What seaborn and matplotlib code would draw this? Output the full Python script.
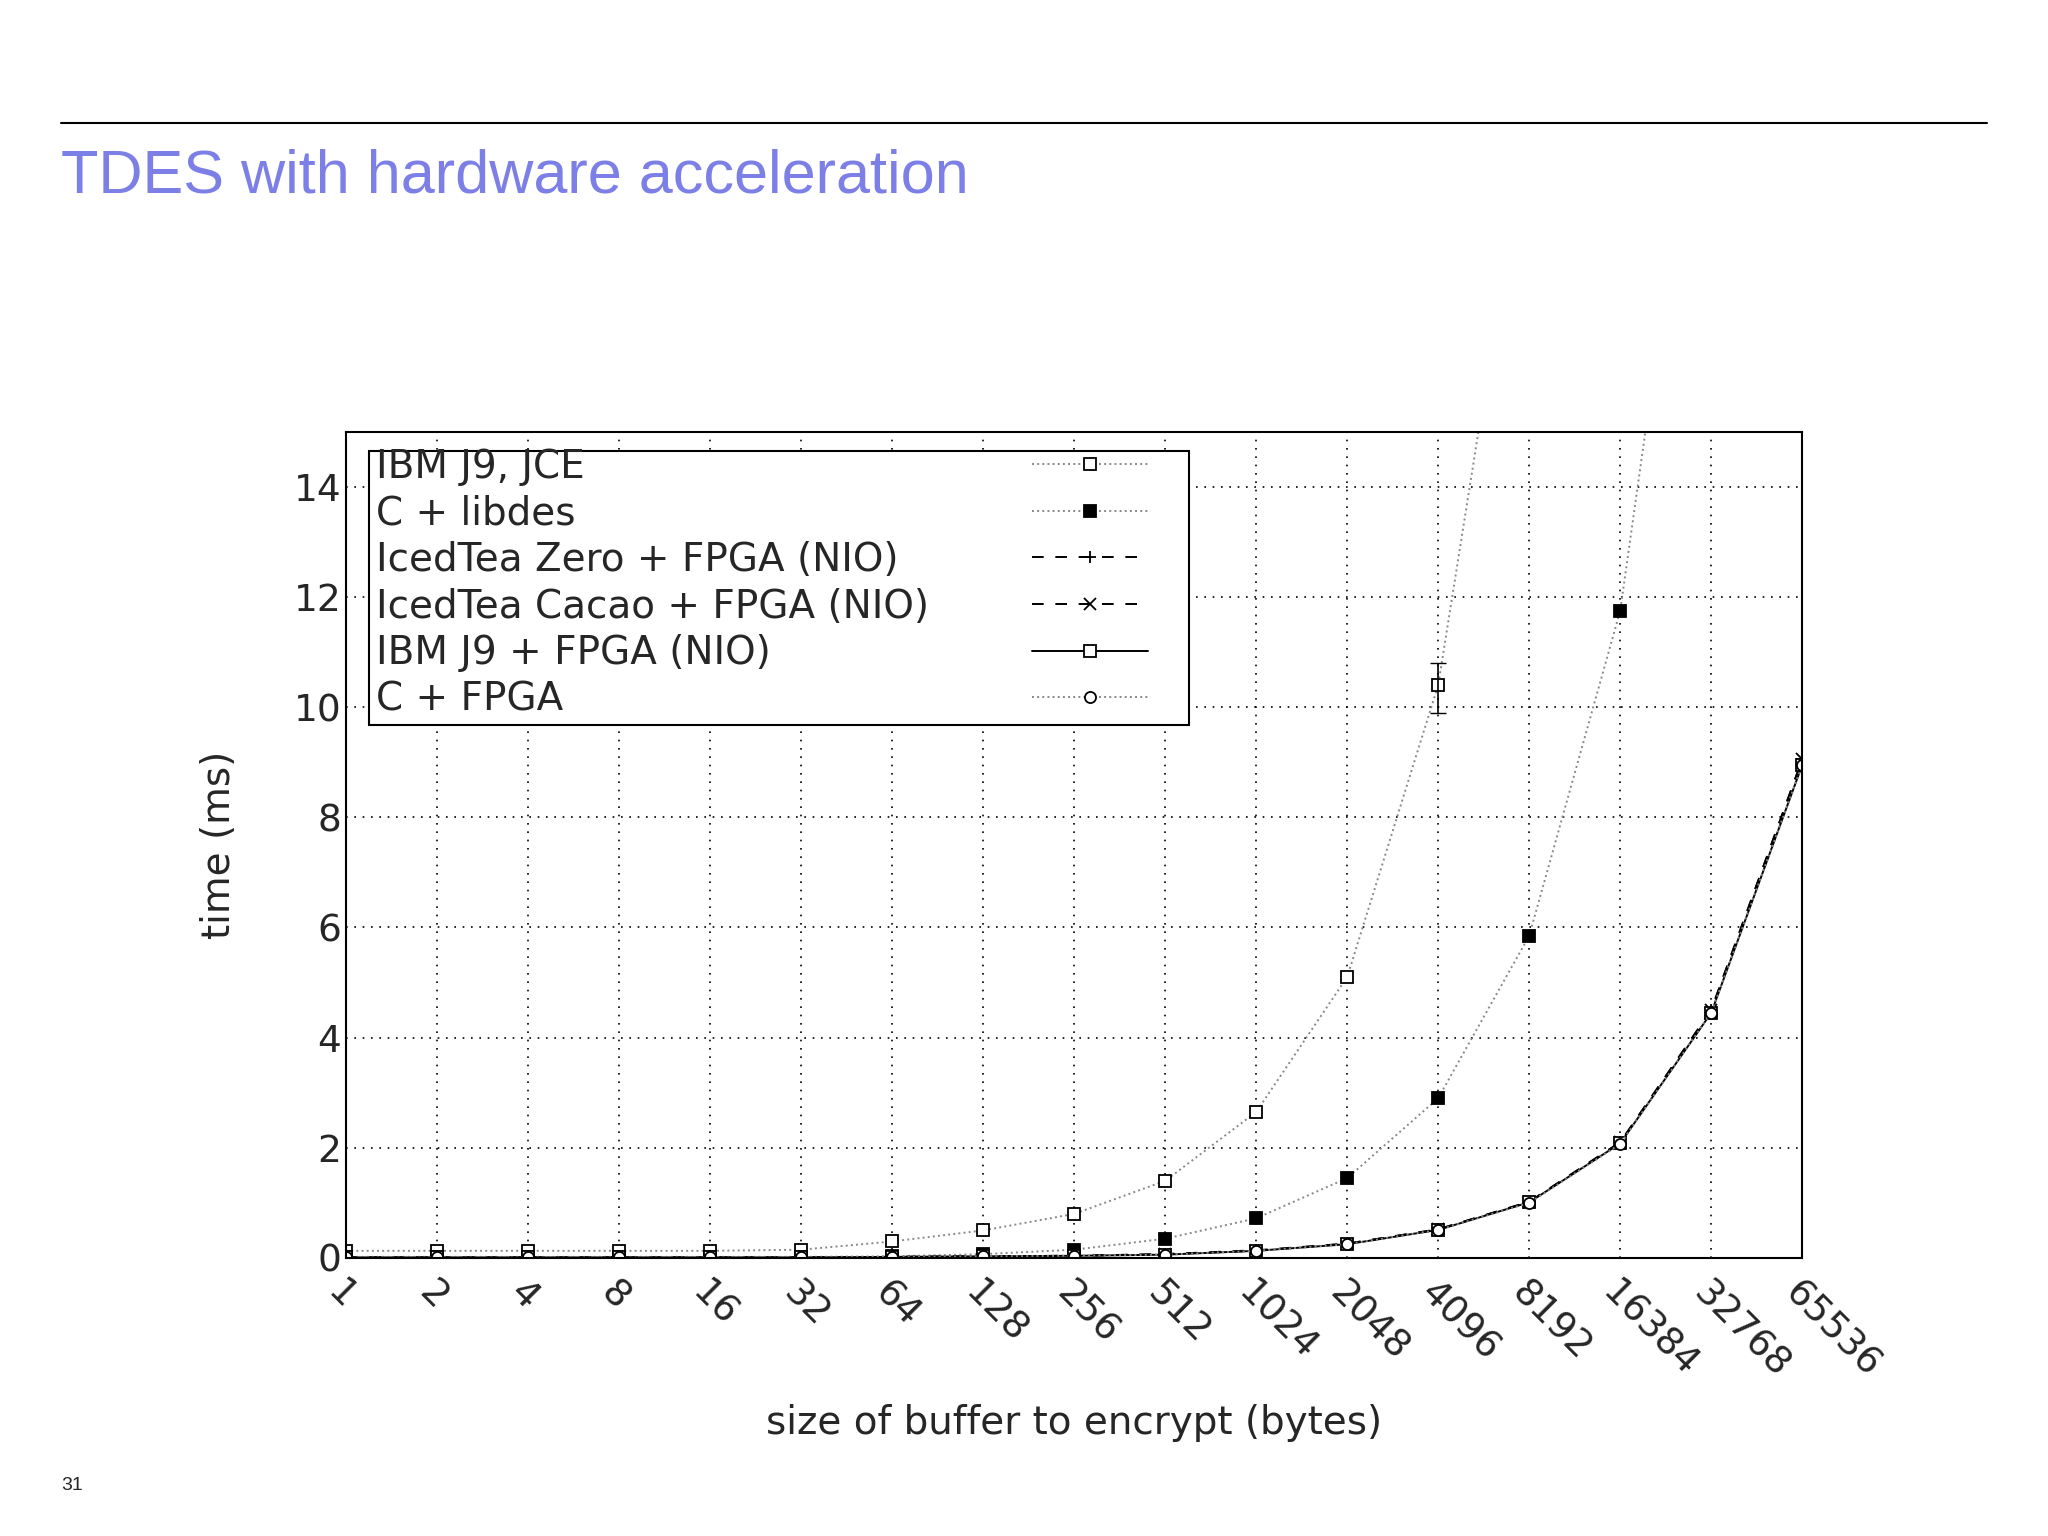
import numpy as np
import pandas as pd
import matplotlib
matplotlib.use('Agg')
import matplotlib.pyplot as plt
from matplotlib.patches import Rectangle
import seaborn as sns

# ── data ──────────────────────────────────────────────────────────────
sizes = ['1', '2', '4', '8', '16', '32', '64', '128', '256', '512',
         '1024', '2048', '4096', '8192', '16384', '32768', '65536']
ibm_jce = [0.13, 0.13, 0.13, 0.13, 0.13, 0.15, 0.3, 0.5, 0.8, 1.4,
           2.65, 5.1, 10.4, 20.8, 41.5, 83.0, 166.0]
c_libdes = [0.02, 0.02, 0.02, 0.02, 0.02, 0.02, 0.03, 0.07, 0.15, 0.35,
            0.72, 1.45, 2.9, 5.85, 11.75, 23.5, 47.0]
zero_fpga = [0.01, 0.01, 0.01, 0.01, 0.01, 0.01, 0.02, 0.03, 0.04, 0.07,
             0.14, 0.26, 0.52, 1.02, 2.1, 4.5, 9.05]
cacao_fpga = [0.01, 0.01, 0.01, 0.01, 0.01, 0.01, 0.02, 0.03, 0.04, 0.07,
              0.13, 0.26, 0.52, 1.02, 2.1, 4.5, 9.05]
j9_fpga = [0.01, 0.01, 0.01, 0.01, 0.01, 0.01, 0.02, 0.03, 0.04, 0.06,
           0.13, 0.25, 0.51, 1.01, 2.08, 4.45, 8.95]
c_fpga = [0.01, 0.01, 0.01, 0.01, 0.01, 0.01, 0.02, 0.03, 0.04, 0.06,
          0.13, 0.25, 0.51, 1.0, 2.07, 4.45, 8.95]
jce_err_lo, jce_err_hi = 9.9, 10.8  # error bar at 4096

sns.set_style('white')
plt.rcParams['font.family'] = ['DejaVu Sans']

fig = plt.figure(figsize=(20.48, 15.36), dpi=100)
fig.add_artist(plt.Line2D([0.030, 0.970], [0.920, 0.920], color='black', lw=1.5))
fig.text(0.030, 0.885, 'TDES with hardware acceleration', fontsize=44,
         color='#7b7fe6', family='Liberation Sans', va='center')
fig.text(0.030, 0.030, '31', fontsize=14, family='Liberation Sans')

ax = fig.add_axes([0.169, 0.181, 0.711, 0.538])
x = np.arange(len(sizes))

series = [
    ('IBM J9, JCE', ibm_jce, dict(color='#888888', linestyle=':', marker='s',
                                  mfc='white', mec='black')),
    ('C + libdes', c_libdes, dict(color='#888888', linestyle=':', marker='s',
                                  mfc='black', mec='black')),
    ('IcedTea Zero + FPGA (NIO)', zero_fpga, dict(color='black', linestyle=(0, (6, 6)),
                                                 marker='+', mec='black')),
    ('IcedTea Cacao + FPGA (NIO)', cacao_fpga, dict(color='black', linestyle=(0, (6, 6)),
                                                   marker='x', mec='black')),
    ('IBM J9 + FPGA (NIO)', j9_fpga, dict(color='black', linestyle='-', marker='s',
                                          mfc='white', mec='black')),
    ('C + FPGA', c_fpga, dict(color='#888888', linestyle=':', marker='o',
                              mfc='white', mec='black')),
]
for label, vals, kw in series:
    df = pd.DataFrame({'x': x, 'y': vals})
    sns.lineplot(data=df, x='x', y='y', ax=ax, label=label, lw=1.4,
                 markersize=8, mew=1.3, legend=False, **kw)

ax.errorbar([12], [ibm_jce[12]], yerr=[[ibm_jce[12] - jce_err_lo], [jce_err_hi - ibm_jce[12]]],
            fmt='none', ecolor='black', capsize=6, lw=1.2)

ax.set_xlim(0, 16)
ax.set_ylim(0, 15)
ax.set_yticks(range(0, 15, 2))
ax.set_xticks(x)
ax.set_xticklabels(sizes, rotation=-45, ha='left', rotation_mode='anchor')
ax.tick_params(axis='both', labelsize=27, direction='in', length=8, width=1.2)
ax.tick_params(axis='x', pad=12)
ax.grid(True, color='black', linestyle=(0, (1, 4)), lw=1.2)
for s in ax.spines.values():
    s.set_color('black')
    s.set_linewidth(1.5)
ax.set_xlabel('size of buffer to encrypt (bytes)', fontsize=28, labelpad=14)
ax.set_ylabel('time (ms)', fontsize=28, labelpad=40)

# legend: text column on the left, line samples on the right, one frame
lines = ax.get_lines()[:len(series)]
labels = [s[0] for s in series]
common = dict(fontsize=28, frameon=False, borderpad=0.1, labelspacing=0.22,
              borderaxespad=0)
leg_txt = ax.legend(lines, labels, loc='upper left', bbox_to_anchor=(0.018, 0.985),
                    handlelength=0, handletextpad=0, **common)
for h in leg_txt.legend_handles:
    h.set_visible(False)
ax.add_artist(leg_txt)
ax.legend(lines, [' '] * len(lines), loc='upper right', bbox_to_anchor=(0.562, 0.985),
          handlelength=3.0, handletextpad=0, **common)
ax.add_patch(Rectangle((0.016, 0.645), 0.563, 0.331, transform=ax.transAxes,
                       facecolor='white', edgecolor='black', lw=1.5, zorder=4))

fig.savefig('out.png', dpi=100)
